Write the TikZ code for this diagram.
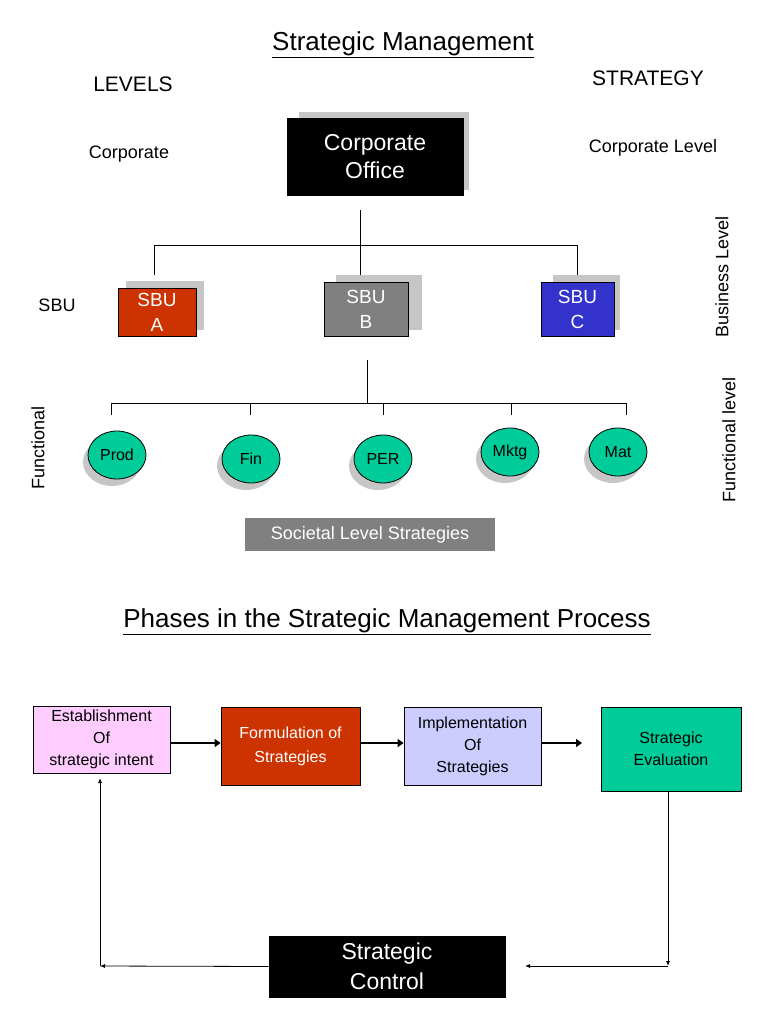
\documentclass[tikz,border=0pt]{standalone}
\usepackage{fontspec}
\setmainfont{Liberation Sans}
\usetikzlibrary{arrows.meta,shapes.geometric}
\begin{document}
\begin{tikzpicture}[x=1pt,y=-1pt,
  txt/.style={inner sep=0pt,font=\fontsize{#1}{#1}\selectfont},
  box/.style={draw=black,line width=0.8pt,align=center,inner sep=0pt},
  shad/.style={fill=gray!45,draw=none},
  ell/.style={ellipse,draw=black,line width=0.8pt,minimum width=58pt,minimum height=48pt,inner sep=0pt,font=\fontsize{16}{16}\selectfont},
  conn/.style={line width=0.8pt},
  thick arrow/.style={line width=2pt,-{Triangle[length=6pt,width=8pt]}},
  thin arrow/.style={line width=0.8pt,-{Latex[length=5pt,width=4pt]}}]
\useasboundingbox (0,0) rectangle (768,1024);
\definecolor{sbuA}{HTML}{CC3300}\definecolor{sbuB}{HTML}{808080}\definecolor{sbuC}{HTML}{3333CC}
\definecolor{pinkb}{HTML}{FFCCFF}\definecolor{lilac}{HTML}{CCCCFF}\definecolor{green2}{HTML}{00CC99}
\tikzset{ell/.append style={fill=green2}}
% titles
\node[txt=26] (t1) at (403,45) {\underline{Strategic Management}};
\node[txt=21] (lv) at (133,84) {LEVELS};
\node[txt=21] (st) at (648,78) {STRATEGY};
\node[txt=18] (co) at (129,154) {Corporate};
\node[txt=18] (cl) at (653,148) {Corporate Level};
% corporate office
\fill[shad] (299,112) rectangle (469,190);
\node[box,fill=black,text=white,minimum width=176pt,minimum height=77pt,font=\fontsize{23}{28}\selectfont] (CO) at (375,156.5) {Corporate\\Office};
\coordinate (c1) at (360,210);
\coordinate (ha) at (154,245);
\coordinate (hc) at (577,245);
% SBUs
\fill[shad] (126,281) rectangle (204,330);
\fill[shad] (336,275) rectangle (422,330);
\fill[shad] (553,275) rectangle (620,330);
\node[box,fill=sbuA,text=white,minimum width=78pt,minimum height=48pt,font=\fontsize{19}{25}\selectfont] (A) at (157,312) {SBU\\A};
\node[box,fill=sbuB,text=white,minimum width=84pt,minimum height=54pt,font=\fontsize{19}{25}\selectfont] (B) at (366,309) {SBU\\B};
\node[box,fill=sbuC,text=white,minimum width=73pt,minimum height=54pt,font=\fontsize{19}{25}\selectfont] (C) at (577.5,309) {SBU\\C};
\draw[conn] (c1) -- (360,275);
\draw[conn] (ha) -- (hc);
\draw[conn] (ha) -- (154,275);
\draw[conn] (hc) -- (577,275);
\node[txt=18] (sb) at (57,305) {SBU};
\node[txt=18,rotate=90] (bl) at (722,277) {Business Level};
\node[txt=18,rotate=90] (fl) at (729,440) {Functional level};
\node[txt=18,rotate=90] (fu) at (38,448) {Functional};
% functional
\coordinate (f0) at (367,360);
\coordinate (f1) at (367,403);
\draw[conn] (f0) -- (f1);
\draw[conn] (111,403) -- (626,403);
\foreach \x in {111,250,383,511,626} \draw[conn] (\x,403) -- (\x,415);
\foreach \n/\x/\y/\t in {p/117/455/Prod,f/251/459/Fin,e/383/459/PER,m/510/452/Mktg,t/618/452/Mat}{
  \fill[gray!45] (\x-5,\y+7) ellipse (29 and 24);
  \node[ell] (\n) at (\x,\y) {\t};
}
\node[fill=sbuB,text=white,minimum width=250pt,minimum height=33pt,inner sep=0pt,font=\fontsize{18}{18}\selectfont] (soc) at (370,534.5) {Societal Level Strategies};
% phases
\node[txt=26] (t2) at (387,622) {\underline{Phases in the Strategic Management Process}};
\node[box,fill=pinkb,minimum width=137pt,minimum height=67pt,font=\fontsize{16}{22}\selectfont] (E) at (101.5,739.5) {Establishment\\Of\\strategic intent};
\node[box,fill=sbuA,text=white,minimum width=139pt,minimum height=78pt,font=\fontsize{16}{24}\selectfont] (F) at (290.5,746) {Formulation of\\Strategies};
\node[box,fill=lilac,minimum width=137pt,minimum height=78pt,font=\fontsize{16}{22}\selectfont] (I) at (472.5,746) {Implementation\\Of\\Strategies};
\node[box,fill=green2,minimum width=140pt,minimum height=84pt,font=\fontsize{16}{22}\selectfont] (S) at (671,749) {Strategic\\Evaluation};
\node[box,fill=black,text=white,minimum width=236pt,minimum height=61pt,font=\fontsize{23}{30}\selectfont] (SC) at (387,966.5) {Strategic\\Control};
\draw[thick arrow] (E.east |- 0,743) -- (F.west |- 0,743);
\draw[thick arrow] (F.east |- 0,743) -- (I.west |- 0,743);
\draw[thick arrow] (I.east |- 0,743) -- (582,743);
\coordinate (r1) at (668,966);
\coordinate (r2) at (525,966);
\coordinate (l1) at (100,966);
\coordinate (l2) at (100,778);
\draw[thin arrow] (668,791) -- (r1);
\draw[thin arrow] (r1) -- (r2);
\draw[thin arrow] (SC.west) -- (l1);
\draw[thin arrow] (l1) -- (l2);
\end{tikzpicture}
\end{document}
